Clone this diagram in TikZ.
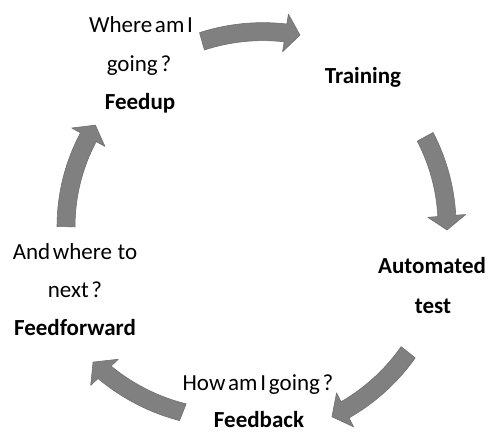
\documentclass[tikz,border=0pt]{standalone}
\usepackage{fontspec}
\setmainfont{Carlito}
\newcommand{\tightsp}{\spaceskip 0.12em plus 0.05em\relax}
\tikzset{
  lbl/.style={anchor=base, inner sep=0pt, text=black,
    font={\fontsize{23}{28}\selectfont}},
  blbl/.style={lbl, font={\fontsize{23}{28}\selectfont\bfseries}},
  blockarrow/.style={fill={rgb,255:red,128;green,128;blue,128},
    draw={rgb,255:red,112;green,112;blue,112}, line width=0.6pt, line join=round}
}
% \curvarrow{tail angle}{tip angle}{tail radius}{tip radius}
\newcommand{\curvarrow}[4]{%
  \pgfmathsetmacro{\cA}{#1}\pgfmathsetmacro{\cB}{#2}%
  \pgfmathsetmacro{\cRa}{#3}\pgfmathsetmacro{\cRb}{#4}%
  \pgfmathsetmacro{\cH}{\cB+4.2*sign(\cA-\cB)}%
  \pgfmathsetmacro{\cRh}{\cRa+(\cRb-\cRa)*(\cH-\cA)/(\cB-\cA)}%
  \filldraw[blockarrow]
    plot[domain=\cA:\cH, samples=30, variable=\t]
      (\t:{\cRa+(\cRb-\cRa)*(\t-\cA)/(\cB-\cA)+9})
    -- (\cH:{\cRh+19}) -- (\cB:\cRb) -- (\cH:{\cRh-19})
    -- plot[domain=\cH:\cA, samples=30, variable=\t]
      (\t:{\cRa+(\cRb-\cRa)*(\t-\cA)/(\cB-\cA)-9})
    -- cycle;
}
\begin{document}
\begin{tikzpicture}[x=1pt, y=1pt]
\useasboundingbox (0,0) rectangle (490,435);
\fill[white] (0,0) rectangle (490,435);

% labels (baselines from the reference, y measured from the bottom)
\node[lbl]  (q1)  at (141,402) {\tightsp Where am I};
\node[lbl]  (q1b) at (139,363) {\tightsp going ?};
\node[blbl] (fu)  at (140,325) {Feedup};
\node[blbl] (tr)  at (363,351) {Training};
\node[blbl] (at)  at (432,161) {Automated};
\node[blbl] (at2) at (433,121) {test};
\node[lbl]  (q2)  at (258,44)  {\tightsp How am I going ?};
\node[blbl] (fb)  at (259,7)   {Feedback};
\node[lbl]  (q3)  at (75,175)  {\tightsp And where\ \ to};
\node[lbl]  (q3b) at (75,137)  {\tightsp next ?};
\node[blbl] (ff)  at (75,99)   {Feedforward};

% curved block arrows around the cycle
\begin{scope}[shift={(255,205)}]
  \curvarrow{105.7}{77}{196}{200}
  \curvarrow{28.7}{0}{194}{192}
  \curvarrow{-38.6}{-67.6}{196}{202}
  \curvarrow{-111.6}{-140.8}{196}{209}
  \curvarrow{179}{146.7}{189}{191}
\end{scope}
\end{tikzpicture}
\end{document}
